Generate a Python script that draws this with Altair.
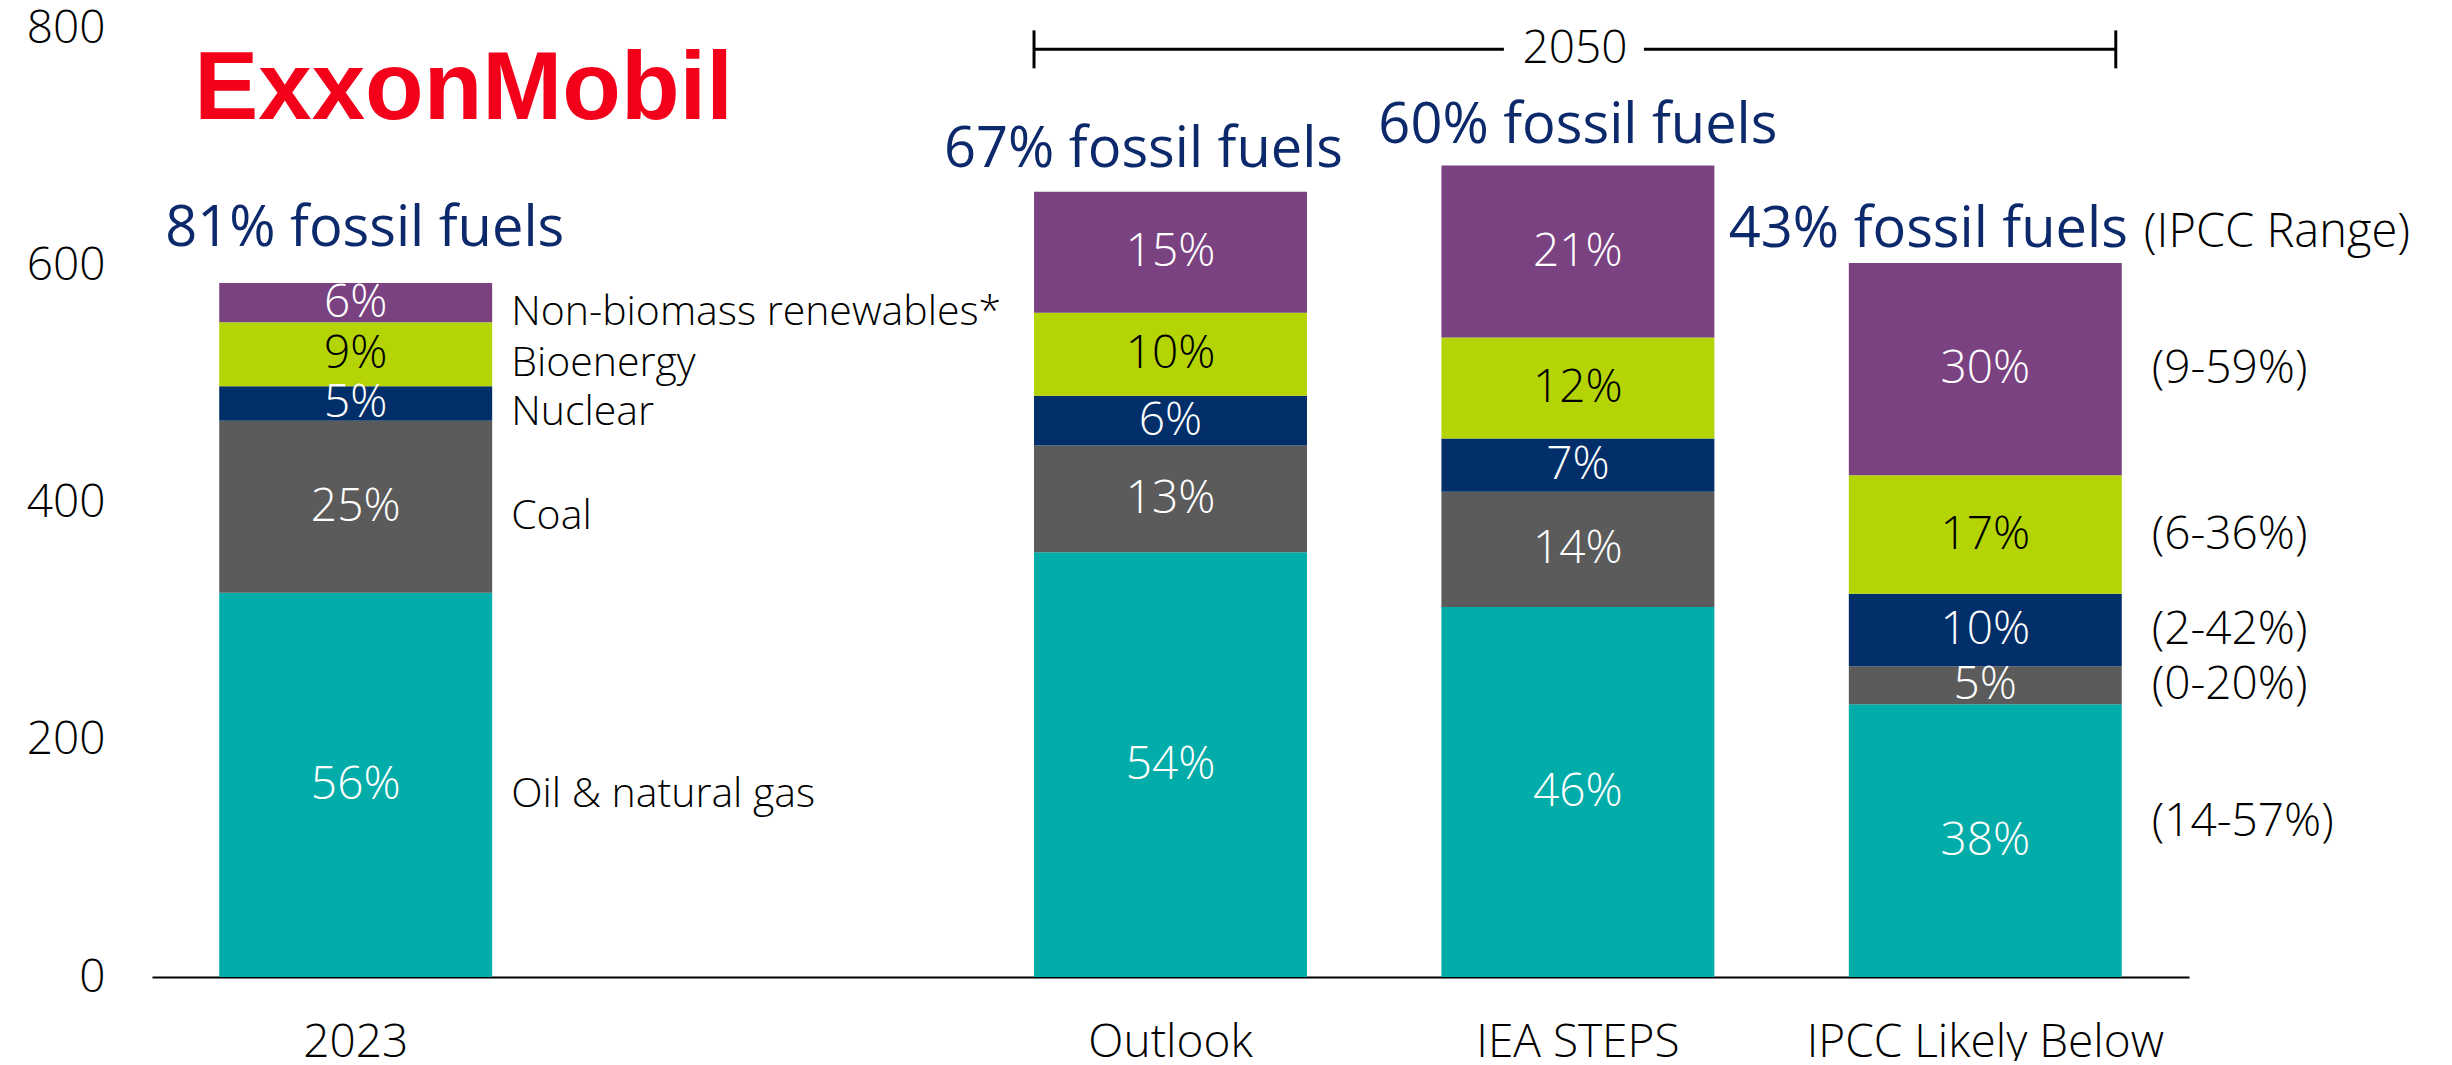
import altair as alt
import pandas as pd

# ---- data ----
scenarios = ["2023", "Outlook", "IEA STEPS", "IPCC Likely Below"]
x_domain = ["2023", " ", "Outlook", "IEA STEPS", "IPCC Likely Below"]
sources = ["Oil & natural gas", "Coal", "Nuclear", "Bioenergy", "Non-biomass renewables*"]

oil = [324, 358, 312, 230]
coal = [145, 90, 97, 32]
nuclear = [29, 42, 45, 61]
bioenergy = [54, 70, 85, 100]
renewables = [33, 102, 145, 179]

oil_pct = ["56%", "54%", "46%", "38%"]
coal_pct = ["25%", "13%", "14%", "5%"]
nuclear_pct = ["5%", "6%", "7%", "10%"]
bio_pct = ["9%", "10%", "12%", "17%"]
ren_pct = ["6%", "15%", "21%", "30%"]

headlines = ["81% fossil fuels", "67% fossil fuels", "60% fossil fuels", "43% fossil fuels"]
ipcc_ranges = ["(14-57%)", "(0-20%)", "(2-42%)", "(6-36%)", "(9-59%)"]  # bottom to top
y_ticks = [0, 200, 400, 600, 800]
bracket_label = "2050"
ipcc_note = "(IPCC Range)"
logo_text = "ExxonMobil"

colors = ["#02aca8", "#5b5b5b", "#022f69", "#b4d405", "#7b4282"]
text_colors = ["white", "white", "white", "black", "white"]
navy_text = "#0c2a6b"
FONT = "Open Sans"

# headline offsets (dx, dy) in pixels, styling only
head_offsets = [(9, -37), (-27, -25), (0, -23), (-57, -16)]

# ---- build table ----
series = [oil, coal, nuclear, bioenergy, renewables]
pcts = [oil_pct, coal_pct, nuclear_pct, bio_pct, ren_pct]
rows = []
for i, sc in enumerate(scenarios):
    base = 0
    for j, src in enumerate(sources):
        v = series[j][i]
        rows.append({
            "scenario": sc, "source": src, "y0": base, "y1": base + v,
            "mid": base + v / 2, "pct": pcts[j][i], "tcolor": text_colors[j],
        })
        base += v
df = pd.DataFrame(rows)
totals = pd.DataFrame({"scenario": scenarios,
                       "total": [sum(s[i] for s in series) for i in range(len(scenarios))],
                       "headline": headlines})

xs = alt.Scale(domain=x_domain, paddingInner=0.33, paddingOuter=0.165)
ys = alt.Scale(domain=[0, 800], nice=False)
xaxis = alt.Axis(title=None, labelAngle=0, ticks=False, domain=True,
                 domainColor="black", domainWidth=2, labelFontSize=46,
                 labelColor="black", labelPadding=43, labelFont=FONT,
                 labelFontWeight=300, grid=False, labelLimit=0)
yaxis = alt.Axis(title=None, values=y_ticks, ticks=False, domain=False,
                 grid=False, labelFontSize=46, labelColor="black",
                 labelPadding=47, labelFont=FONT, labelFontWeight=300)


def X(field, **kw):
    return alt.X(field, scale=xs, axis=xaxis, **kw)


def Y(field):
    return alt.Y(field, scale=ys, axis=yaxis)


bars = alt.Chart(df).mark_bar().encode(
    x=X("scenario:N"),
    y=Y("y0:Q"),
    y2="y1:Q",
    color=alt.Color("source:N", scale=alt.Scale(domain=sources, range=colors), legend=None),
)

pct_text = alt.Chart(df).mark_text(font=FONT, fontSize=46, fontWeight=300, baseline="middle").encode(
    x=X("scenario:N"),
    y=Y("mid:Q"),
    text="pct:N",
    color=alt.Color("tcolor:N", scale=None),
)

series_labels = alt.Chart(df[df["scenario"] == scenarios[0]]).mark_text(
    font=FONT, fontSize=41, fontWeight=300, align="left", baseline="middle", dx=19, dy=10, color="black"
).encode(
    x=X("scenario:N", bandPosition=1),
    y=Y("mid:Q"),
    text="source:N",
)

ipcc_df = df[df["scenario"] == scenarios[-1]].copy()
ipcc_df["range"] = ipcc_ranges
range_layers = []
for k in range(len(ipcc_ranges)):
    dy = -19 if k == 0 else 0
    range_layers.append(alt.Chart(ipcc_df.iloc[k:k + 1]).mark_text(
        font=FONT, fontSize=46, fontWeight=300, align="left", baseline="middle",
        dx=30, dy=dy, color="black"
    ).encode(
        x=X("scenario:N", bandPosition=1),
        y=Y("mid:Q"),
        text="range:N",
    ))

head_layers = []
for k, (hdx, hdy) in enumerate(head_offsets):
    head_layers.append(alt.Chart(totals.iloc[k:k + 1]).mark_text(
        font=FONT, fontSize=56, align="center", baseline="alphabetic", dx=hdx, dy=hdy, color=navy_text
    ).encode(
        x=X("scenario:N"),
        y=Y("total:Q"),
        text="headline:N",
    ))

note_df = totals.iloc[3:].copy()
note_df["note"] = ipcc_note
head_note = alt.Chart(note_df).mark_text(
    font=FONT, fontSize=47, fontWeight=300, align="left", baseline="alphabetic", dx=22, dy=-16, color="black"
).encode(
    x=X("scenario:N", bandPosition=1),
    y=Y("total:Q"),
    text="note:N",
)

logo_df = pd.DataFrame({"scenario": [scenarios[0]], "y": [723], "t": [logo_text]})
logo = alt.Chart(logo_df).mark_text(
    font="Liberation Sans", fontSize=96, fontWeight="bold", align="left", baseline="alphabetic",
    dx=-25, color="#f3001b"
).encode(
    x=X("scenario:N", bandPosition=0),
    y=Y("y:Q"),
    text="t:N",
)

# ---- 2050 bracket ----
br_df = pd.DataFrame({"scenario": [scenarios[1]], "b": [scenarios[2]], "c": [scenarios[3]],
                      "y": [782], "ylo": [766], "yhi": [798], "t": [bracket_label]})
seg_left = alt.Chart(br_df).mark_rule(color="black", strokeWidth=3, x2Offset=-74).encode(
    x=X("scenario:N", bandPosition=0),
    x2=alt.X2("b:N", bandPosition=0.5),
    y=Y("y:Q"),
)
seg_right = alt.Chart(br_df).mark_rule(color="black", strokeWidth=3, xOffset=66, x2Offset=-6).encode(
    x=X("b:N", bandPosition=0.5),
    x2=alt.X2("c:N", bandPosition=1),
    y=Y("y:Q"),
)
tick_left = alt.Chart(br_df).mark_rule(color="black", strokeWidth=3).encode(
    x=X("scenario:N", bandPosition=0),
    y=Y("ylo:Q"),
    y2="yhi:Q",
)
tick_right = alt.Chart(br_df).mark_rule(color="black", strokeWidth=3, xOffset=-6).encode(
    x=X("c:N", bandPosition=1),
    y=Y("ylo:Q"),
    y2="yhi:Q",
)
br_text = alt.Chart(br_df).mark_text(
    font=FONT, fontSize=46, fontWeight=300, baseline="middle", dx=-3, color="black"
).encode(
    x=X("b:N"),
    y=Y("y:Q"),
    text="t:N",
)

chart = alt.layer(
    bars, pct_text, series_labels, *range_layers, *head_layers, head_note, logo,
    seg_left, seg_right, tick_left, tick_right, br_text,
).properties(
    width=2037, height=949,
    autosize=alt.AutoSizeParams(type="none"),
    padding={"left": 144, "top": 20, "right": 236, "bottom": 84},
).configure_view(stroke=None)

chart.save("out.html", embed_options={"renderer": "svg", "actions": False})
